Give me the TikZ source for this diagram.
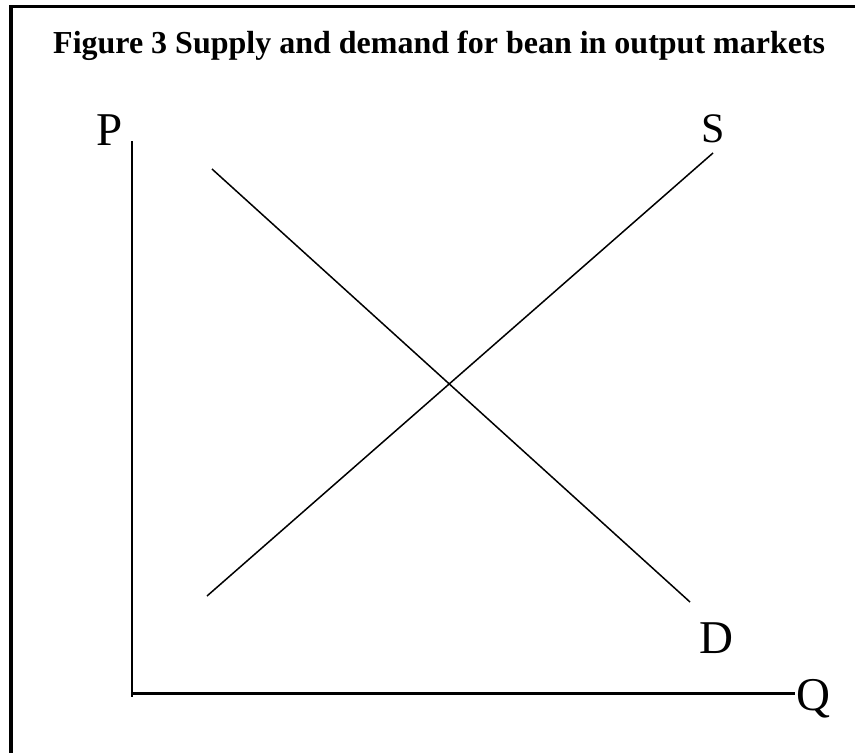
\documentclass[tikz,border=0pt]{standalone}
\usepackage{fontspec}
\setmainfont{Liberation Serif}
\begin{document}
\begin{tikzpicture}[x=1pt,y=-1pt,
  lbl/.style={inner sep=0pt,anchor=base west,font=\fontsize{47}{50}\selectfont},
  curve/.style={line width=1.5pt}]
\useasboundingbox (0,0) rectangle (859,753);
% frame (top and left)
\coordinate (ftl) at (9,6.5);
\coordinate (ftr) at (855,6.5);
\coordinate (fl) at (11,5);
\coordinate (fbl) at (11,753);
\draw[line width=3pt] (ftl) -- (ftr);
\draw[line width=4pt] (fl) -- (fbl);
% title
\node[inner sep=0pt,anchor=base west,font=\fontsize{32}{36}\bfseries\selectfont] (title) at (53,53) {Figure 3 Supply and demand for bean in output markets};
% axes
\coordinate (ytop) at (132,141);
\coordinate (ybot) at (132,697);
\coordinate (origin) at (132,693.3);
\coordinate (xend) at (795,693.3);
\draw[line width=2.6pt] (ytop) -- (ybot);
\draw[line width=3pt] (origin) -- (xend);
% curves
\coordinate (d1) at (212,169);
\coordinate (d2) at (690,602);
\coordinate (s1) at (207,596);
\coordinate (s2) at (713,153);
\draw[curve] (d1) -- (d2);
\draw[curve] (s1) -- (s2);
% labels
\node[lbl] (P) at (96,145) {P};
\node[lbl,font=\fontsize{42}{45}\selectfont] (S) at (701,142) {S};
\node[lbl] (D) at (699,653) {D};
\node[lbl] (Q) at (796,710) {Q};
\end{tikzpicture}
\end{document}
